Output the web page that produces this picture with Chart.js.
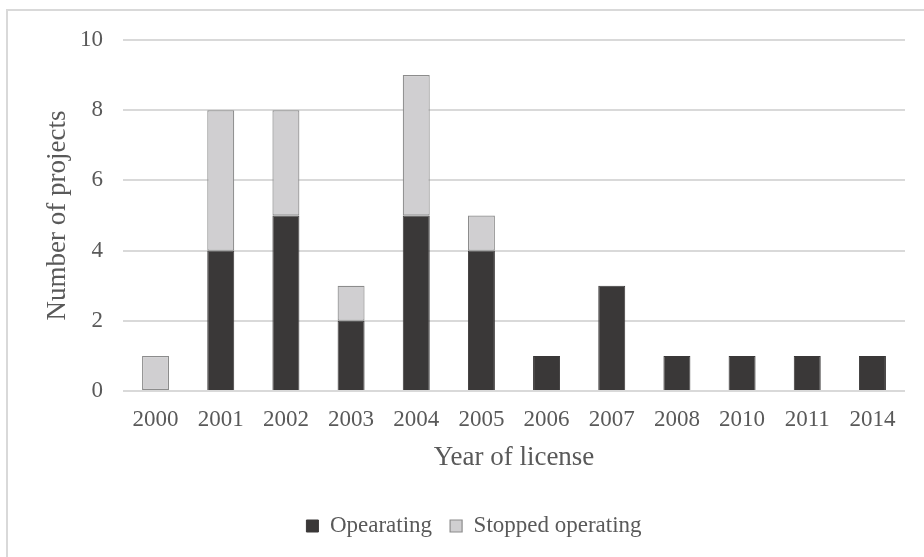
<!DOCTYPE html>
<html>
<head>
<meta charset="utf-8">
<script src="https://cdn.jsdelivr.net/npm/chart.js@4/dist/chart.umd.min.js"></script>
<style>
  html, body { margin: 0; padding: 0; background: #fff; overflow: hidden; }
  #wrap { position: relative; width: 924px; height: 557px; overflow: hidden; }
  #frame { position: absolute; left: 6px; top: 9px; width: 1000px; height: 700px; border: 2px solid #d9d9d9; box-sizing: border-box; }
  #c { position: absolute; left: 0; top: 0; }
</style>
</head>
<body>
<div id="wrap">
  <div id="frame"></div>
  <canvas id="c" width="924" height="557"></canvas>
</div>
<script>
const categories = ['2000', '2001', '2002', '2003', '2004', '2005', '2006', '2007', '2008', '2010', '2011', '2014'];
const operating = [0, 4, 5, 2, 5, 4, 1, 3, 1, 1, 1, 1];
const stopped = [1, 4, 3, 1, 4, 1, 0, 0, 0, 0, 0, 0];
const seriesNames = ['Opearating', 'Stopped operating'];
const yTicks = [0, 2, 4, 6, 8, 10];

const FONT = "'Liberation Serif', 'Times New Roman', serif";
const TXT = '#595959';

new Chart(document.getElementById('c'), {
  type: 'bar',
  data: {
    labels: categories,
    datasets: [
      {
        label: seriesNames[0],
        data: operating,
        backgroundColor: '#3a3838',
        borderColor: '#3a3838',
        borderWidth: 1,
        barPercentage: 0.414,
        categoryPercentage: 1
      },
      {
        label: seriesNames[1],
        data: stopped,
        backgroundColor: '#d0cfd1',
        borderColor: '#8c8c8c',
        borderWidth: 1.2,
        borderSkipped: false,
        barPercentage: 0.414,
        categoryPercentage: 1
      }
    ]
  },
  options: {
    responsive: false,
    animation: false,
    layout: { padding: { left: 43, right: 19, top: 40, bottom: 9.5 } },
    plugins: {
      tooltip: { enabled: false },
      legend: {
        position: 'bottom',
        labels: {
          color: TXT,
          font: { family: FONT, size: 23 },
          boxWidth: 12,
          boxHeight: 12,
          padding: 18
        }
      }
    },
    scales: {
      x: {
        stacked: true,
        grid: { display: false },
        border: { display: false },
        ticks: { color: TXT, font: { family: FONT, size: 23 }, padding: 7.5, maxRotation: 0, autoSkip: false },
        title: { display: true, text: 'Year of license', color: TXT, font: { family: FONT, size: 27 }, padding: { top: 0, bottom: 22.3 } },
        afterFit: (s) => { s.height = 105.5; }
      },
      y: {
        stacked: true,
        min: 0,
        max: 10,
        afterBuildTicks: (s) => { s.ticks = yTicks.map(v => ({ value: v })); },
        grid: { color: '#d9d9d9', lineWidth: 2, drawTicks: false },
        border: { display: false },
        ticks: { color: TXT, font: { family: FONT, size: 23 }, padding: 20 },
        title: { display: true, text: 'Number of projects', color: TXT, font: { family: FONT, size: 27 }, padding: { top: -1.2, bottom: 0 } },
        afterFit: (s) => { s.width = 80; }
      }
    }
  }
});
</script>
</body>
</html>
